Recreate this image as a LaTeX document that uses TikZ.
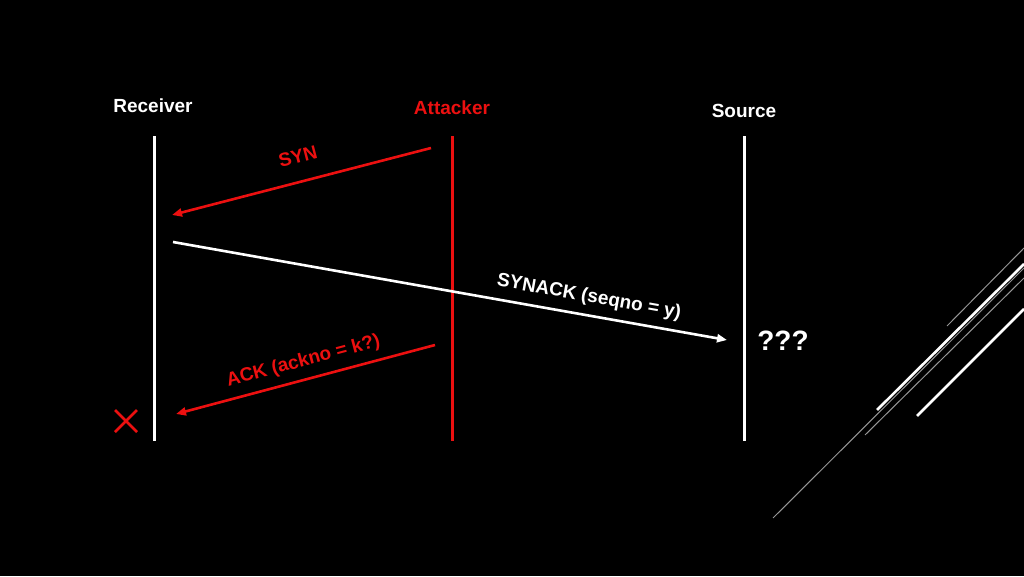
\documentclass[tikz,border=0pt]{standalone}
\usepackage{fontspec}
\setmainfont{Liberation Sans}
\usetikzlibrary{arrows.meta}
\definecolor{attred}{RGB}{236,16,16}
\definecolor{decogray}{RGB}{150,150,150}
\tikzset{
  actor/.style={font=\bfseries\fontsize{19}{21}\selectfont, inner sep=0pt},
  lifeline/.style={line width=3pt},
  msg/.style={line width=2.6pt, -{Triangle[length=10pt,width=8pt]}},
  msglabel/.style={font=\bfseries\fontsize{19}{21}\selectfont, inner sep=0pt, sloped, above=8pt},
  thindeco/.style={decogray, line width=1pt},
  thickdeco/.style={white, line width=2.6pt},
}
\begin{document}
\begin{tikzpicture}[x=1pt,y=-1pt]
\fill[black] (0,0) rectangle (1024,576);
\useasboundingbox (0,0) rectangle (1024,576);

% actors
\node[actor, text=white] (recv) at (153,106) {Receiver};
\node[actor, text=attred] (att) at (452,108) {Attacker};
\node[actor, text=white] (src) at (744,111) {Source};

% lifelines
\coordinate (rtop) at (154,136); \coordinate (rbot) at (154,441);
\coordinate (atop) at (452,136); \coordinate (abot) at (452,441);
\coordinate (stop) at (744,136); \coordinate (sbot) at (744,441);
\draw[lifeline, white] (rtop) -- (rbot);
\draw[lifeline, attred] (atop) -- (abot);
\draw[lifeline, white] (stop) -- (sbot);

% messages
\coordinate (syn1) at (431,148); \coordinate (syn2) at (172,215);
\coordinate (sa1) at (173,242); \coordinate (sa2) at (727,340);
\coordinate (ack1) at (435,345); \coordinate (ack2) at (176,414);

\draw[msg, attred] (syn1) -- node[msglabel, text=attred, pos=0.49, above=9pt] (synl) {SYN} (syn2);
\draw[msg, white] (sa1) -- node[msglabel, text=white, pos=0.745] (sal) {SYNACK (seqno = y)} (sa2);
\draw[msg, attred] (ack1) -- node[msglabel, text=attred, pos=0.49] (ackl) {ACK (ackno = k?)} (ack2);

% failure mark
\node[inner sep=0pt, minimum size=0pt] (xmark) at (126,421) {};
\draw[attred, line width=2.6pt] ([shift={(-11,-11)}]xmark.center) -- ([shift={(11,11)}]xmark.center)
  ([shift={(-11,11)}]xmark.center) -- ([shift={(11,-11)}]xmark.center);

% question marks
\node[font=\bfseries\fontsize{28}{30}\selectfont, text=white, inner sep=0pt] (qq) at (783,341) {???};

% decorative lines
\draw[thindeco] (773,518) -- (1024,268);
\draw[thindeco] (865,435) -- (1024,278);
\draw[thindeco] (947,326) -- (1024,248);
\draw[thickdeco] (877,410) -- (1024,264);
\draw[thickdeco] (917,416) -- (1024,309);
\end{tikzpicture}
\end{document}
